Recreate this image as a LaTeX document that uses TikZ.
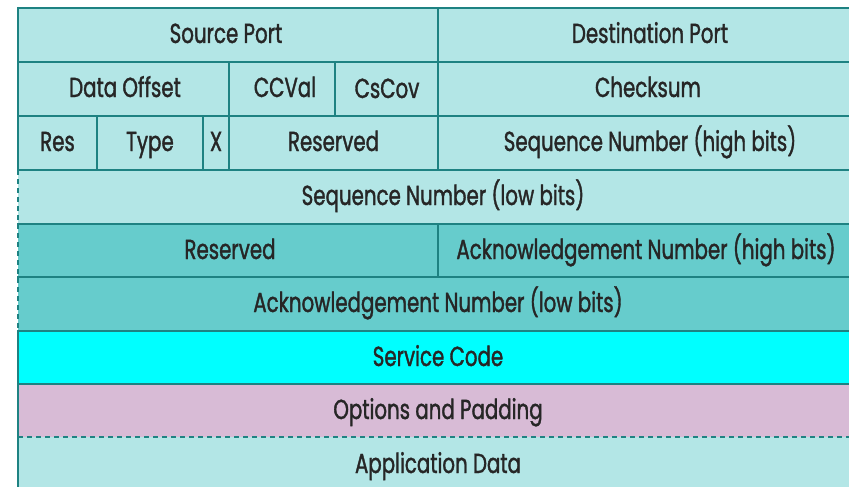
\documentclass[tikz,border=0pt]{standalone}
\usepackage{fontspec}
\setmainfont{Poppins}[FakeStretch=0.72,FakeBold=1.3]
\definecolor{lt}{RGB}{179,230,230}
\definecolor{md}{RGB}{102,204,204}
\definecolor{cy}{RGB}{0,255,255}
\definecolor{pk}{RGB}{216,187,214}
\definecolor{ln}{RGB}{30,130,130}
\tikzset{
  cell/.style={inner sep=0pt, outer sep=0pt, anchor=base, font=\fontsize{27.5}{27.5}\selectfont, text=black!85},
  grid/.style={draw=ln, line width=2.2pt},
  dgrid/.style={draw=ln, line width=2.2pt, dash pattern=on 5pt off 4pt}
}
\begin{document}
\begin{tikzpicture}[x=1pt,y=-1pt]
\useasboundingbox (0,0) rectangle (849,487);
\clip (0,0) rectangle (849,487);
% fills
\fill[lt] (18,8) rectangle (858,224);
\fill[md] (18,224) rectangle (858,331);
\fill[cy] (18,331) rectangle (858,384);
\fill[pk] (18,384) rectangle (858,437);
\fill[lt] (18,437) rectangle (858,495);
% texts
\node[cell] (sp) at (226,43) {Source Port};
\node[cell] (dp) at (650,43) {Destination Port};
\node[cell] (do) at (125,97) {Data Offset};
\node[cell] (cc) at (285,97) {CCVal};
\node[cell] (cs) at (387,98) {CsCov};
\node[cell] (ck) at (648,97) {Checksum};
\node[cell] (rs) at (57.5,151) {Res};
\node[cell] (ty) at (150,151) {Type};
\node[cell] (xx) at (216,151) {X};
\node[cell] (rv) at (333.5,151) {Reserved};
\node[cell] (sh) at (650,151) {Sequence Number (high bits)};
\node[cell] (sl) at (443,205) {Sequence Number (low bits)};
\node[cell] (r2) at (230,259) {Reserved};
\node[cell] (ah) at (646,259) {Acknowledgement Number (high bits)};
\node[cell] (al) at (438,312) {Acknowledgement Number (low bits)};
\node[cell] (sc) at (438,366) {Service Code};
\node[cell] (op) at (438,419) {Options and Padding};
\node[cell] (ad) at (438,473) {Application Data};
% horizontal lines
\foreach \y in {8,62,116,170,224,277,331,384} \draw[grid] (17,\y) -- (860,\y);
\draw[dgrid] (18,437) -- (860,437);
% vertical lines
\draw[grid] (18,7) -- (18,170);
\draw[dgrid] (18,170) -- (18,331);
\draw[grid] (18,331) -- (18,490);
\draw[grid] (438,8) -- (438,170);
\draw[grid] (438,224) -- (438,277);
\draw[grid] (229,62) -- (229,170);
\draw[grid] (335,62) -- (335,116);
\draw[grid] (97,116) -- (97,170);
\draw[grid] (203,116) -- (203,170);
\end{tikzpicture}
\end{document}
